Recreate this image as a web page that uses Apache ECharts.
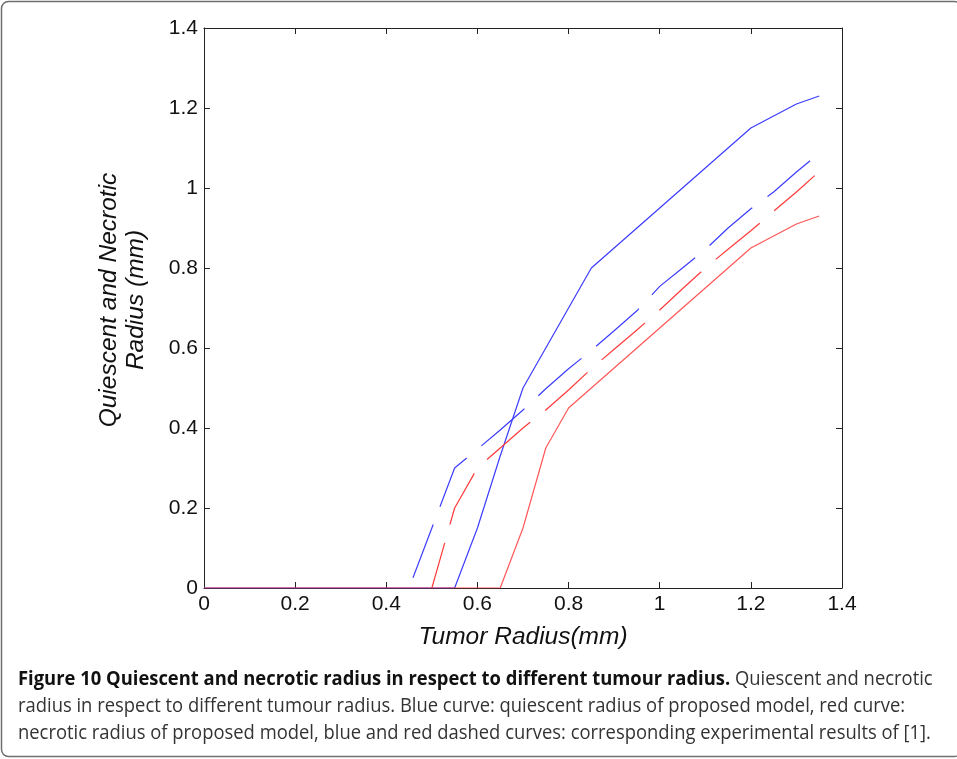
<!DOCTYPE html>
<html>
<head>
<meta charset="utf-8">
<script src="https://cdn.jsdelivr.net/npm/echarts@6/dist/echarts.min.js"></script>
<style>
  html, body { margin: 0; padding: 0; background: #fff; }
  #chart { width: 957px; height: 759px; }
</style>
</head>
<body>
<div id="chart"></div>
<script>
// tick labels
var xTicks = [0, 0.2, 0.4, 0.6, 0.8, 1, 1.2, 1.4];
var yTicks = [0, 0.2, 0.4, 0.6, 0.8, 1, 1.2, 1.4];

// blue solid: quiescent radius, proposed model
var quiesX = [0, 0.55, 0.6, 0.65, 0.7, 0.75, 0.8, 0.85, 0.9, 0.95, 1.0, 1.05, 1.1, 1.15, 1.2, 1.25, 1.3, 1.35];
var quiesY = [0, 0, 0.15, 0.33, 0.5, 0.6, 0.7, 0.8, 0.85, 0.9, 0.95, 1.0, 1.05, 1.1, 1.15, 1.18, 1.21, 1.23];

// red solid: necrotic radius, proposed model
var necroX = [0, 0.65, 0.7, 0.75, 0.8, 0.85, 0.9, 0.95, 1.0, 1.05, 1.1, 1.15, 1.2, 1.25, 1.3, 1.35];
var necroY = [0, 0, 0.15, 0.35, 0.45, 0.5, 0.55, 0.6, 0.65, 0.7, 0.75, 0.8, 0.85, 0.88, 0.91, 0.93];

// blue dashed: quiescent radius, experiment [1]
var quiesExpX = [0.45, 0.55, 0.6, 0.65, 0.7, 0.75, 0.8, 0.85, 0.9, 0.95, 1.0, 1.05, 1.1, 1.15, 1.2, 1.25, 1.3, 1.33];
var quiesExpY = [0, 0.3, 0.347, 0.395, 0.445, 0.498, 0.548, 0.594, 0.643, 0.693, 0.754, 0.8, 0.846, 0.9, 0.948, 0.99, 1.04, 1.068];

// red dashed: necrotic radius, experiment [1]
var necroExpX = [0.5, 0.55, 0.6, 0.65, 0.7, 0.75, 0.8, 0.85, 0.9, 0.95, 1.0, 1.05, 1.1, 1.15, 1.2, 1.25, 1.3, 1.34];
var necroExpY = [0, 0.2, 0.3, 0.35, 0.4, 0.445, 0.495, 0.548, 0.597, 0.645, 0.695, 0.748, 0.8, 0.847, 0.893, 0.942, 0.99, 1.031];

var captionBold = 'Figure 10 Quiescent and necrotic radius in respect to different tumour radius.';
var captionLines = [
    ' Quiescent and necrotic',
    'radius in respect to different tumour radius. Blue curve: quiescent radius of proposed model, red curve:',
    'necrotic radius of proposed model, blue and red dashed curves: corresponding experimental results of [1].'
];

function zip(xs, ys) {
    return xs.map(function (x, i) { return [x, ys[i]]; });
}

var axisColor = '#222';
var tickFont = { fontFamily: 'Liberation Sans', fontSize: 21, color: '#111' };

function makeAxis(pos, withLabels) {
    return {
        type: 'value', min: xTicks[0], max: xTicks[xTicks.length - 1], interval: 0.2,
        position: pos,
        axisLine: { onZero: false, lineStyle: { color: axisColor, width: 1 } },
        axisTick: { inside: true, length: 6, lineStyle: { color: axisColor } },
        axisLabel: withLabels ? Object.assign({ margin: 6 }, tickFont) : { show: false },
        splitLine: { show: false }
    };
}

var xBottom = makeAxis('bottom', true);
xBottom.name = 'Tumor Radius(mm)';
xBottom.nameLocation = 'middle';
xBottom.nameGap = 37;
xBottom.nameTextStyle = { fontFamily: 'Liberation Sans', fontStyle: 'italic', fontSize: 24.5, color: '#111' };

var myChart = echarts.init(document.getElementById('chart'));
myChart.setOption({
    backgroundColor: '#fff',
    animation: false,
    grid: { left: 204, top: 28, width: 638, height: 560, containLabel: false },
    xAxis: [xBottom, makeAxis('top', false)],
    yAxis: [makeAxis('left', true), makeAxis('right', false)],
    series: [
        {
            type: 'line', data: zip(quiesX, quiesY), symbol: 'none',
            lineStyle: { color: '#3c3cff', width: 1.2 }
        },
        {
            type: 'line', data: zip(necroX, necroY), symbol: 'none',
            lineStyle: { color: '#ff3a3a', width: 1.2, opacity: 0.85 }
        },
        {
            type: 'line', data: zip(quiesExpX, quiesExpY), symbol: 'none',
            lineStyle: { color: '#3c3cff', width: 1.2, type: [57, 19], dashOffset: 65 }
        },
        {
            type: 'line', data: zip(necroExpX, necroExpY), symbol: 'none',
            lineStyle: { color: '#ff3a3a', width: 1.2, type: [57, 19], dashOffset: 10 }
        }
    ],
    graphic: [
        {
            type: 'rect', silent: true, z: -1,
            shape: { x: 1.5, y: 1.5, width: 960, height: 755, r: 7 },
            style: { fill: 'none', stroke: '#6f6f6f', lineWidth: 1.5 }
        },
        {
            type: 'text', x: 123, y: 300, rotation: Math.PI / 2,
            style: {
                text: 'Quiescent and Necrotic\nRadius (mm)',
                fontFamily: 'Liberation Sans', fontStyle: 'italic', fontSize: 24.5,
                lineHeight: 27, fill: '#111', align: 'center', verticalAlign: 'middle'
            }
        },
        {
            type: 'text', x: 18, y: 679, scaleX: 0.92,
            style: {
                text: '{b|' + captionBold + '}' + captionLines[0],
                rich: {
                    b: { fontFamily: 'Open Sans', fontWeight: 'bold', fontSize: 20, fill: '#111' }
                },
                fontFamily: 'Open Sans', fontSize: 20, fill: '#333', verticalAlign: 'middle'
            }
        },
        {
            type: 'text', x: 18, y: 706, scaleX: 0.92,
            style: {
                text: captionLines[1],
                fontFamily: 'Open Sans', fontSize: 20, fill: '#333', verticalAlign: 'middle'
            }
        },
        {
            type: 'text', x: 18, y: 733, scaleX: 0.92,
            style: {
                text: captionLines[2],
                fontFamily: 'Open Sans', fontSize: 20, fill: '#333', verticalAlign: 'middle'
            }
        }
    ]
});
</script>
</body>
</html>
